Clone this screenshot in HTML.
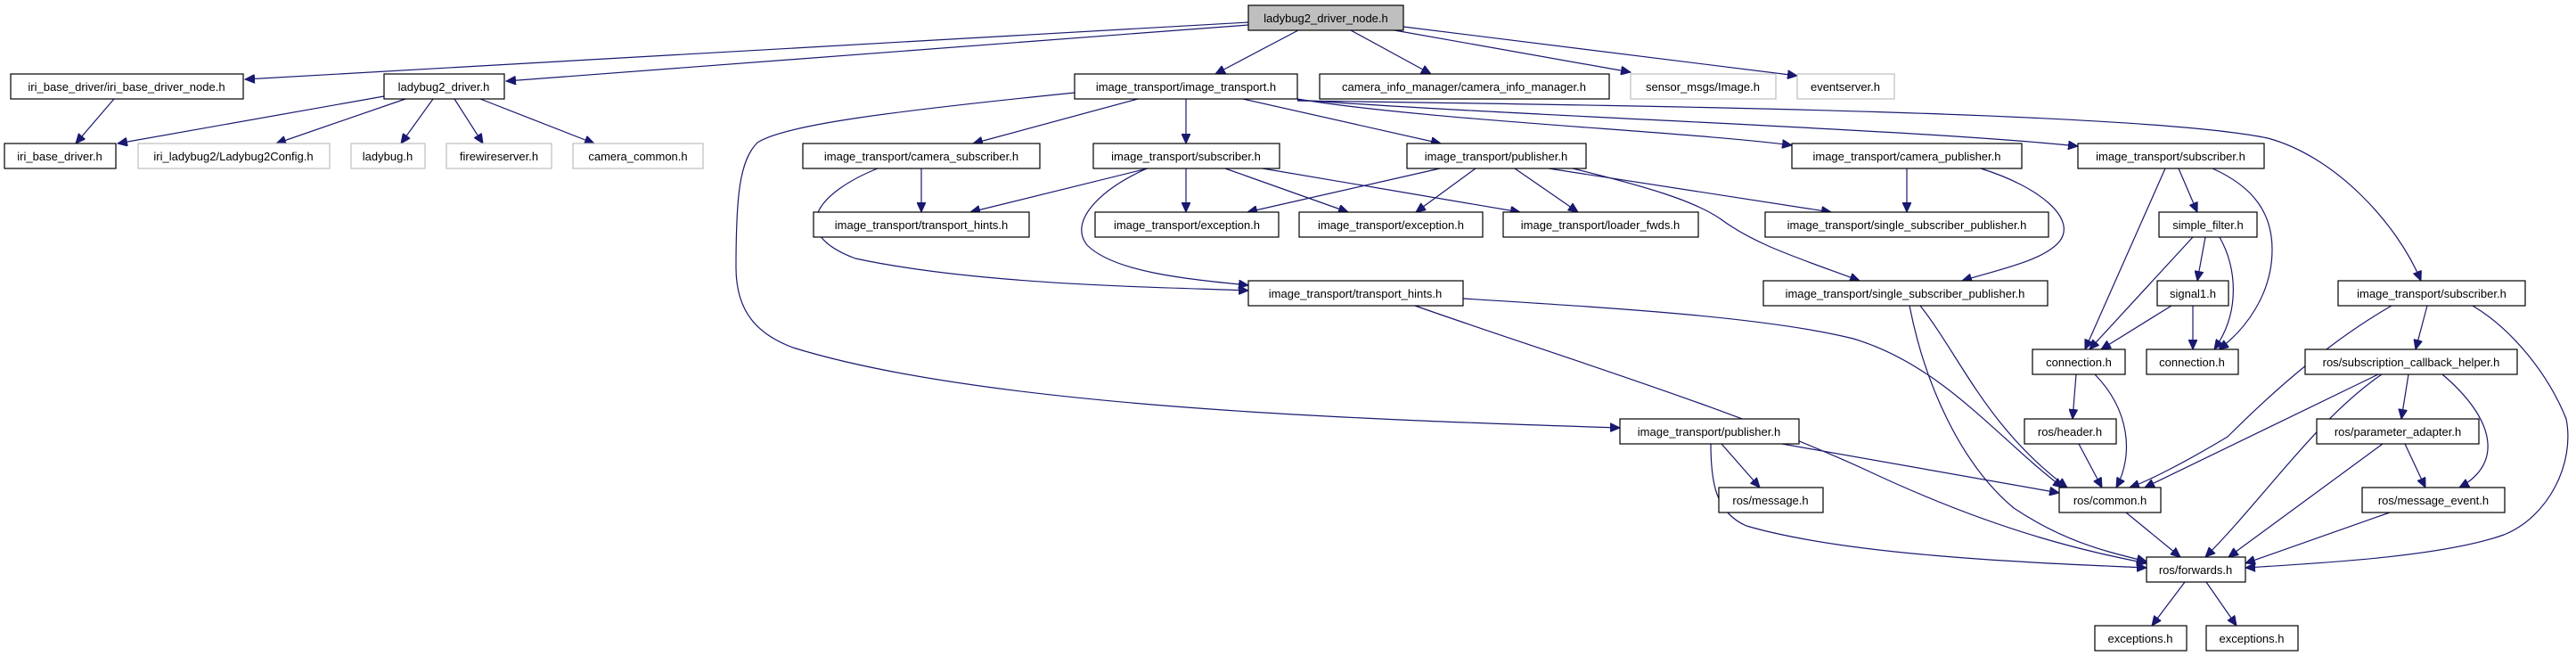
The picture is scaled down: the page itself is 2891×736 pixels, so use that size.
<!DOCTYPE html>
<html><head><meta charset="utf-8"><style>
html,body{margin:0;padding:0;background:#fff;}
svg{display:block;}
text{font-family:"Liberation Sans","DejaVu Sans",sans-serif;font-size:13px;fill:#000;}
.n rect{fill:#fff;stroke:#000;stroke-width:1.2;}
.g rect{fill:#fff;stroke:#bfbfbf;stroke-width:1.2;}
.e{fill:none;stroke:#191970;stroke-width:1.2;}
</style></head><body>
<svg width="2891" height="736" viewBox="0 0 2891 736" xmlns="http://www.w3.org/2000/svg">
<defs><marker id="a" markerUnits="userSpaceOnUse" markerWidth="12" markerHeight="10" refX="11" refY="5" orient="auto"><path d="M0,0 L11,5 L0,10 Z" fill="#191970" stroke="#191970"/></marker></defs>
<g class="e" marker-end="url(#a)">
<path d="M1401,25 L275,89"/>
<path d="M1401,28 L568,91"/>
<path d="M1457,34 L1364,83"/>
<path d="M1516,34 L1606,83"/>
<path d="M1565,34 L1830,81"/>
<path d="M1575,30 L2017,85"/>
<path d="M431,108 L132,161"/>
<path d="M128,111 L85,161"/>
<path d="M455,111 L310,161"/>
<path d="M486,111 L450,161"/>
<path d="M510,111 L542,161"/>
<path d="M539,111 L667,161"/>
<path d="M1277,111 L1092,161"/>
<path d="M1331,111 L1331,161"/>
<path d="M1395,111 L1617,161"/>
<path d="M1456,111 C1600,135 1900,148 2011,163"/>
<path d="M1456,112 C1700,130 2150,145 2332,164"/>
<path d="M1456,113 C1800,118 2400,125 2545,155 C2620,175 2690,250 2717,315"/>
<path d="M1206,104 C1000,125 880,140 850,160 C830,180 826,220 826,300 C826,350 850,375 890,390 C1100,455 1500,470 1818,480"/>
<path d="M1034,189 L1034,238"/>
<path d="M985,189 C920,215 880,260 960,290 C1100,320 1300,322 1401,326"/>
<path d="M1288,189 L1089,238"/>
<path d="M1331,189 L1331,238"/>
<path d="M1375,189 L1513,238"/>
<path d="M1417,189 L1706,238"/>
<path d="M1287,189 C1230,215 1200,250 1220,275 C1250,305 1330,313 1401,320"/>
<path d="M1616,189 L1400,238"/>
<path d="M1656,189 L1589,238"/>
<path d="M1700,189 L1771,238"/>
<path d="M1738,189 L2055,238"/>
<path d="M1765,189 C1850,210 1900,225 1930,245 C1970,275 2020,290 2087,315"/>
<path d="M2140,189 L2140,238"/>
<path d="M2223,189 C2290,210 2330,245 2312,270 C2295,292 2245,302 2202,315"/>
<path d="M1588,343 C1750,400 1950,460 2100,530 C2250,600 2350,620 2409,632"/>
<path d="M1642,335 C1800,345 1980,355 2080,380 C2180,410 2240,490 2315,547"/>
<path d="M2143,343 C2160,430 2200,520 2260,570 C2320,610 2370,620 2409,630"/>
<path d="M2155,343 C2200,400 2230,480 2320,547"/>
<path d="M2430,189 L2340,392"/>
<path d="M2445,189 L2466,238"/>
<path d="M2483,189 C2530,210 2550,240 2550,280 C2550,330 2520,370 2490,392"/>
<path d="M2461,266 L2345,392"/>
<path d="M2475,266 L2466,315"/>
<path d="M2491,266 C2510,300 2515,350 2485,392"/>
<path d="M2437,343 L2358,392"/>
<path d="M2461,343 L2461,392"/>
<path d="M2684,343 C2620,380 2560,430 2500,490 C2450,520 2410,540 2390,547"/>
<path d="M2724,343 L2711,392"/>
<path d="M2775,343 C2820,370 2860,420 2880,470 C2890,520 2860,580 2810,600 C2740,625 2600,632 2520,637"/>
<path d="M2330,420 L2326,470"/>
<path d="M2351,420 C2390,460 2395,510 2375,547"/>
<path d="M2333,498 L2359,547"/>
<path d="M2669,420 L2407,547"/>
<path d="M2673,420 C2600,470 2540,560 2475,625"/>
<path d="M2703,420 L2695,470"/>
<path d="M2741,420 C2800,470 2810,520 2760,547"/>
<path d="M2674,498 L2501,625"/>
<path d="M2699,498 L2722,547"/>
<path d="M2682,575 L2520,632"/>
<path d="M2386,575 L2447,625"/>
<path d="M1932,498 L1975,547"/>
<path d="M2000,498 L2311,553"/>
<path d="M1920,498 C1920,540 1925,575 1960,590 C2080,625 2300,632 2409,637"/>
<path d="M2452,653 L2415,702"/>
<path d="M2476,653 L2510,702"/>
</g>
<g text-anchor="middle">
<g><rect x="1401" y="6" width="174" height="28" fill="#bfbfbf" stroke="#000" stroke-width="1.2"/><text x="1488" y="25">ladybug2_driver_node.h</text></g>
<g class="n"><rect x="12" y="83" width="261" height="28"/><text x="142" y="102">iri_base_driver/iri_base_driver_node.h</text></g>
<g class="n"><rect x="431" y="83" width="135" height="28"/><text x="498" y="102">ladybug2_driver.h</text></g>
<g class="n"><rect x="1206" y="83" width="250" height="28"/><text x="1331" y="102">image_transport/image_transport.h</text></g>
<g class="n"><rect x="1481" y="83" width="325" height="28"/><text x="1643" y="102">camera_info_manager/camera_info_manager.h</text></g>
<g class="g"><rect x="1830" y="83" width="163" height="28"/><text x="1911" y="102">sensor_msgs/Image.h</text></g>
<g class="g"><rect x="2017" y="83" width="109" height="28"/><text x="2071" y="102">eventserver.h</text></g>
<g class="n"><rect x="5" y="161" width="125" height="28"/><text x="67" y="180">iri_base_driver.h</text></g>
<g class="g"><rect x="155" y="161" width="215" height="28"/><text x="262" y="180">iri_ladybug2/Ladybug2Config.h</text></g>
<g class="g"><rect x="394" y="161" width="83" height="28"/><text x="435" y="180">ladybug.h</text></g>
<g class="g"><rect x="501" y="161" width="118" height="28"/><text x="560" y="180">firewireserver.h</text></g>
<g class="g"><rect x="643" y="161" width="146" height="28"/><text x="716" y="180">camera_common.h</text></g>
<g class="n"><rect x="901" y="161" width="266" height="28"/><text x="1034" y="180">image_transport/camera_subscriber.h</text></g>
<g class="n"><rect x="1227" y="161" width="209" height="28"/><text x="1331" y="180">image_transport/subscriber.h</text></g>
<g class="n"><rect x="1579" y="161" width="201" height="28"/><text x="1679" y="180">image_transport/publisher.h</text></g>
<g class="n"><rect x="2011" y="161" width="258" height="28"/><text x="2140" y="180">image_transport/camera_publisher.h</text></g>
<g class="n"><rect x="2332" y="161" width="209" height="28"/><text x="2436" y="180">image_transport/subscriber.h</text></g>
<g class="n"><rect x="913" y="238" width="242" height="28"/><text x="1034" y="257">image_transport/transport_hints.h</text></g>
<g class="n"><rect x="1229" y="238" width="206" height="28"/><text x="1332" y="257">image_transport/exception.h</text></g>
<g class="n"><rect x="1458" y="238" width="206" height="28"/><text x="1561" y="257">image_transport/exception.h</text></g>
<g class="n"><rect x="1687" y="238" width="219" height="28"/><text x="1796" y="257">image_transport/loader_fwds.h</text></g>
<g class="n"><rect x="1981" y="238" width="318" height="28"/><text x="2140" y="257">image_transport/single_subscriber_publisher.h</text></g>
<g class="n"><rect x="2423" y="238" width="110" height="28"/><text x="2478" y="257">simple_filter.h</text></g>
<g class="n"><rect x="1401" y="315" width="241" height="28"/><text x="1521" y="334">image_transport/transport_hints.h</text></g>
<g class="n"><rect x="1979" y="315" width="319" height="28"/><text x="2138" y="334">image_transport/single_subscriber_publisher.h</text></g>
<g class="n"><rect x="2421" y="315" width="80" height="28"/><text x="2461" y="334">signal1.h</text></g>
<g class="n"><rect x="2624" y="315" width="210" height="28"/><text x="2729" y="334">image_transport/subscriber.h</text></g>
<g class="n"><rect x="2281" y="392" width="104" height="28"/><text x="2333" y="411">connection.h</text></g>
<g class="n"><rect x="2409" y="392" width="103" height="28"/><text x="2460" y="411">connection.h</text></g>
<g class="n"><rect x="2587" y="392" width="238" height="28"/><text x="2706" y="411">ros/subscription_callback_helper.h</text></g>
<g class="n"><rect x="1818" y="470" width="201" height="28"/><text x="1918" y="489">image_transport/publisher.h</text></g>
<g class="n"><rect x="2272" y="470" width="103" height="28"/><text x="2323" y="489">ros/header.h</text></g>
<g class="n"><rect x="2600" y="470" width="182" height="28"/><text x="2691" y="489">ros/parameter_adapter.h</text></g>
<g class="n"><rect x="1929" y="547" width="117" height="28"/><text x="1987" y="566">ros/message.h</text></g>
<g class="n"><rect x="2311" y="547" width="114" height="28"/><text x="2368" y="566">ros/common.h</text></g>
<g class="n"><rect x="2651" y="547" width="160" height="28"/><text x="2731" y="566">ros/message_event.h</text></g>
<g class="n"><rect x="2409" y="625" width="111" height="28"/><text x="2464" y="644">ros/forwards.h</text></g>
<g class="n"><rect x="2351" y="702" width="103" height="28"/><text x="2402" y="721">exceptions.h</text></g>
<g class="n"><rect x="2476" y="702" width="103" height="28"/><text x="2527" y="721">exceptions.h</text></g>
</g>
</svg>
</body></html>
